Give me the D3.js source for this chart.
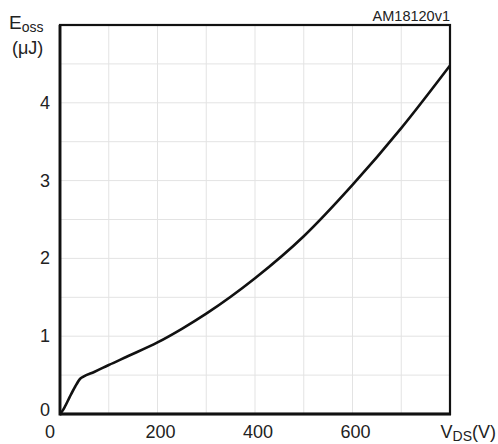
<!DOCTYPE html>
<html><head><meta charset="utf-8">
<script src="https://cdn.jsdelivr.net/npm/d3@7"></script>
<style>body{margin:0;background:#fff}svg{display:block}text{font-family:"Liberation Sans",Arial,sans-serif;fill:#222}</style>
</head><body><svg id="c" width="498" height="444"></svg>
<script>
const vds = [0, 5, 10, 20, 31, 41, 48, 70, 100, 140, 200, 250, 300, 400, 500, 600, 700, 800];
const eoss = [0, 0.04, 0.094, 0.22, 0.35, 0.45, 0.48, 0.54, 0.63, 0.745, 0.92, 1.095, 1.29, 1.745, 2.285, 2.945, 3.675, 4.48];
const xTicks = [0, 200, 400, 600];
const yTicks = [0, 1, 2, 3, 4];
const xGrid = [100, 200, 300, 400, 500, 600, 700];
const yGrid = [0.5, 1, 1.5, 2, 2.5, 3, 3.5, 4, 4.5];

const svg = d3.select("#c");
const L = 60, R = 450, T = 25, B = 414;
const x = d3.scaleLinear().domain([0, 800]).range([L, R]);
const y = d3.scaleLinear().domain([0, 5]).range([B, T]);

svg.append("g").selectAll("line").data(xGrid).join("line")
  .attr("x1", d => x(d)).attr("x2", d => x(d)).attr("y1", T).attr("y2", B)
  .attr("stroke", "#e3e3e3").attr("stroke-width", 1);
svg.append("g").selectAll("line").data(yGrid).join("line")
  .attr("y1", d => y(d)).attr("y2", d => y(d)).attr("x1", L).attr("x2", R)
  .attr("stroke", "#e3e3e3").attr("stroke-width", 1);

const line = d3.line().x((d, i) => x(vds[i])).y(d => y(d)).curve(d3.curveMonotoneX);
svg.append("path").datum(eoss).attr("d", line).attr("fill", "none")
  .attr("stroke", "#111").attr("stroke-width", 2.6).attr("stroke-linejoin", "round");

// frame
svg.append("rect").attr("x", L).attr("y", T).attr("width", R - L).attr("height", B - T)
  .attr("fill", "none").attr("stroke", "#111").attr("stroke-width", 2.2);
svg.append("line").attr("x1", L).attr("x2", L).attr("y1", T).attr("y2", B + 1.5).attr("stroke", "#111").attr("stroke-width", 2.8);
svg.append("line").attr("x1", L).attr("x2", R + 1).attr("y1", B).attr("y2", B).attr("stroke", "#111").attr("stroke-width", 2.8);

// y tick labels
svg.append("g").selectAll("text").data(yTicks).join("text")
  .attr("x", L - 10).attr("y", d => y(d) + (d === 0 ? 2 : 6))
  .attr("text-anchor", "end").attr("font-size", 18).text(d => d);
// x tick labels
svg.append("g").selectAll("text").data(xTicks).join("text")
  .attr("x", d => x(d) + (d === 0 ? -10 : 3)).attr("y", 438)
  .attr("text-anchor", "middle").attr("font-size", 18).text(d => d);

// axis titles
const ty = svg.append("text").attr("x", 9).attr("y", 29).attr("font-size", 19);
ty.append("tspan").text("E");
ty.append("tspan").attr("font-size", 14).attr("dy", 3).text("oss");
svg.append("text").attr("x", 12).attr("y", 54).attr("font-size", 18).text("(μJ)");

const tx = svg.append("text").attr("x", 496).attr("y", 438).attr("text-anchor", "end").attr("font-size", 18);
tx.append("tspan").text("V");
tx.append("tspan").attr("font-size", 14).attr("dy", 3).text("DS");
tx.append("tspan").attr("dy", -3).text("(V)");

svg.append("text").attr("x", R).attr("y", 21).attr("text-anchor", "end").attr("font-size", 14.5).text("AM18120v1");
</script></body></html>
